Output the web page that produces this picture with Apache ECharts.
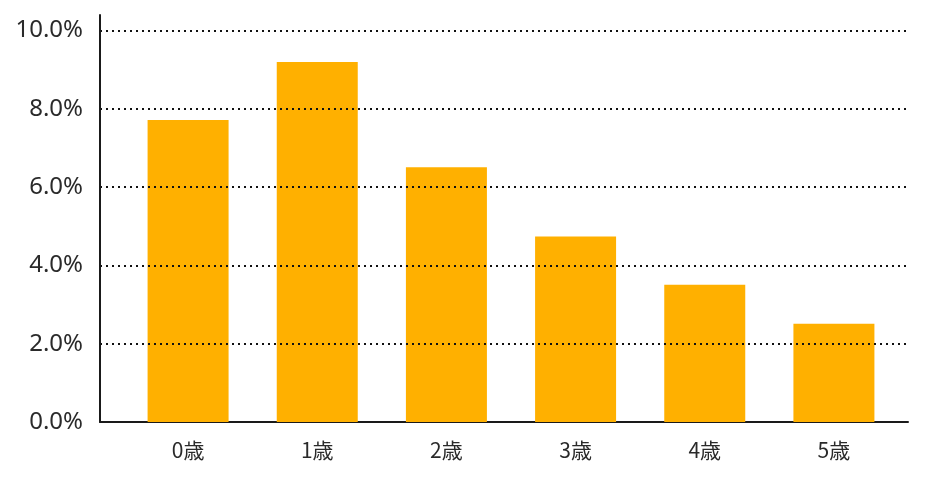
<!DOCTYPE html>
<html>
<head>
<meta charset="utf-8">
<script src="https://cdn.jsdelivr.net/npm/echarts@6/dist/echarts.min.js"></script>
<style>html,body{margin:0;padding:0;background:#fff;}#c{width:930px;height:479px;}</style>
</head>
<body>
<div id="c"></div>
<script>
const categories = ['0歳', '1歳', '2歳', '3歳', '4歳', '5歳'];
const values = [7.72, 9.2, 6.51, 4.74, 3.51, 2.51];
const yMin = 0, yMax = 10.4, yInterval = 2;

const chart = echarts.init(document.getElementById('c'));
const font = '"Noto Sans CJK JP", "Noto Sans", sans-serif';
chart.setOption({
  animation: false,
  backgroundColor: '#fff',
  grid: [
    { left: 100, right: 22, top: 15, bottom: 57 },
    { left: 123.5, right: 31.5, top: 15, bottom: 57 }
  ],
  xAxis: [
    { gridIndex: 0, type: 'value', min: 0, max: 1,
      axisLine: { show: true, lineStyle: { color: '#1a1a1a', width: 2 } },
      axisTick: { show: false }, axisLabel: { show: false }, splitLine: { show: false } },
    { gridIndex: 1, type: 'category', data: categories, boundaryGap: true,
      axisLine: { show: false }, axisTick: { show: false },
      axisLabel: { margin: 18, fontSize: 21, color: '#2a2a2a', fontFamily: font } }
  ],
  yAxis: [
    { gridIndex: 0, type: 'value', min: yMin, max: yMax, interval: yInterval, z: 10,
      axisLine: { show: true, onZero: false, lineStyle: { color: '#1a1a1a', width: 2 } },
      axisTick: { show: false },
      axisLabel: { showMaxLabel: false, margin: 17, fontSize: 24, color: '#2a2a2a', fontFamily: '"Noto Sans", sans-serif',
        formatter: v => v.toFixed(1) + '%' },
      splitLine: { show: true, showMinLine: false, showMaxLine: false,
        lineStyle: { color: '#111', width: 2, type: [2, 4] } } },
    { gridIndex: 1, type: 'value', min: yMin, max: yMax, interval: yInterval, show: false }
  ],
  series: [{
    type: 'bar', xAxisIndex: 1, yAxisIndex: 1, data: values, barWidth: 81,
    itemStyle: { color: '#FFB000' }
  }]
});
</script>
</body>
</html>
